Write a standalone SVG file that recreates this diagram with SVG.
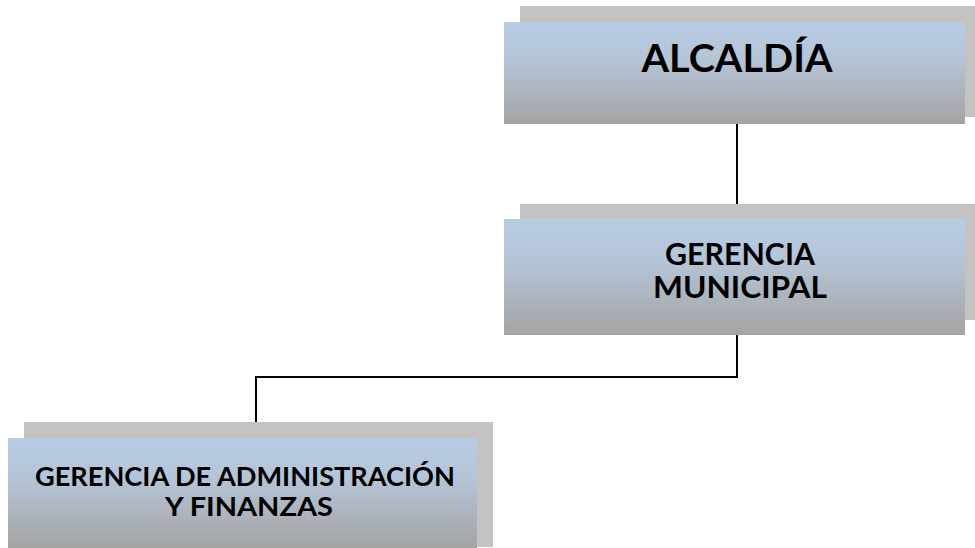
<svg xmlns="http://www.w3.org/2000/svg" width="975" height="548" viewBox="0 0 975 548">
<defs>
<linearGradient id="g" x1="0" y1="0" x2="0" y2="1">
<stop offset="0" stop-color="#B8CCE4"/>
<stop offset="0.35" stop-color="#B5C5D8"/>
<stop offset="1" stop-color="#A4A4A4"/>
</linearGradient>
<pattern id="chk" width="2" height="2" patternUnits="userSpaceOnUse">
<rect width="2" height="2" fill="#C8C8C8"/>
<rect width="1" height="1" fill="#BEBEBE"/>
<rect x="1" y="1" width="1" height="1" fill="#BEBEBE"/>
</pattern>
</defs>
<style>
.sh{fill:url(#chk)}
.bx{fill:url(#g)}
.t{font-family:Lato,"Liberation Sans",Arial,sans-serif;font-weight:bold;fill:#000;text-anchor:middle}
.c{fill:none;stroke:#000;stroke-width:2}
</style>
<g id="connectors">
<path class="c" d="M737 124V220"/>
<path class="c" d="M737 335V377H256V438"/>
</g>
<g id="alcaldia">
<rect class="sh" x="520" y="6" width="455" height="111"/>
<rect class="bx" x="504" y="22" width="461" height="102"/>
<text class="t" x="737" y="72" font-size="38" textLength="191" lengthAdjust="spacingAndGlyphs">ALCALDÍA</text>
</g>
<g id="gerencia-municipal">
<rect class="sh" x="520" y="204" width="455" height="116"/>
<rect class="bx" x="504" y="219" width="461" height="116"/>
<text class="t" x="740" y="265" font-size="30" textLength="150" lengthAdjust="spacingAndGlyphs">GERENCIA</text>
<text class="t" x="740" y="298" font-size="30" textLength="174" lengthAdjust="spacingAndGlyphs">MUNICIPAL</text>
</g>
<g id="gerencia-administracion">
<rect class="sh" x="24" y="422" width="469" height="125"/>
<rect class="bx" x="8" y="438" width="469" height="110"/>
<text class="t" x="245" y="486" font-size="26" textLength="420" lengthAdjust="spacingAndGlyphs">GERENCIA DE ADMINISTRACIÓN</text>
<text class="t" x="249" y="516" font-size="26" textLength="168" lengthAdjust="spacingAndGlyphs">Y FINANZAS</text>
</g>
</svg>
